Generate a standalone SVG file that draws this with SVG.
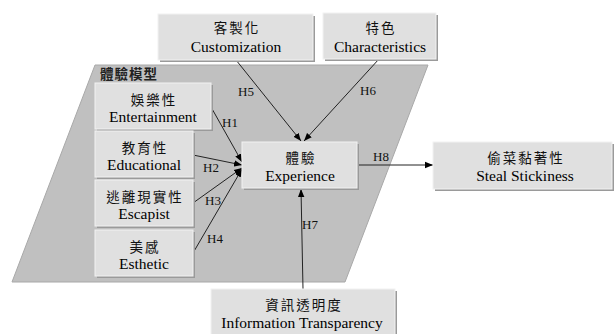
<svg xmlns="http://www.w3.org/2000/svg" width="615" height="334" viewBox="0 0 615 334">
<style>
.box{fill:#e0e0e0;stroke:#f2f2f2;stroke-width:1}
.sh{fill:#9a9a9a}
.zh{font-family:"Liberation Serif","Noto Sans CJK TC",serif;font-size:13.5px;letter-spacing:2px;fill:#111;text-anchor:middle}
.en{font-family:"Liberation Serif",serif;font-size:15.5px;fill:#000;text-anchor:middle}
.lb{font-family:"Liberation Serif",serif;font-size:13px;fill:#111}
.ln{stroke:#222;stroke-width:1;fill:none;marker-end:url(#ah)}
</style>
<defs>
<marker id="ah" viewBox="0 0 10 10" refX="10" refY="5" markerWidth="8" markerHeight="8" markerUnits="userSpaceOnUse" orient="auto">
<path d="M0,1 L10,5 L0,9 Z" fill="#000"/>
</marker>
</defs>
<rect width="615" height="334" fill="#fff"/>
<g id="model">
<polygon points="95,65 428,65 345,282 12,282" fill="#c0c0c0" stroke="#a8a8a8" stroke-width="1"/>
<text x="100" y="79" font-family="Liberation Serif,'Noto Sans CJK TC',serif" font-size="13.5" font-weight="bold" letter-spacing="1" fill="#222">體驗模型</text>
</g>
<g id="connectors">
<line class="ln" x1="211" y1="107" x2="242" y2="162"/>
<line class="ln" x1="193" y1="155" x2="242" y2="165"/>
<line class="ln" x1="193" y1="203" x2="242" y2="168"/>
<line class="ln" x1="193" y1="253" x2="242" y2="169"/>
<line class="ln" x1="236" y1="60" x2="301" y2="141"/>
<line class="ln" x1="379" y1="59" x2="304" y2="141"/>
<line class="ln" x1="303" y1="289" x2="301" y2="189"/>
<line class="ln" x1="357" y1="165" x2="433" y2="165"/>
<text class="lb" x="222" y="127">H1</text>
<text class="lb" x="203" y="172">H2</text>
<text class="lb" x="205" y="205">H3</text>
<text class="lb" x="207" y="243">H4</text>
<text class="lb" x="238" y="96">H5</text>
<text class="lb" x="360" y="95">H6</text>
<text class="lb" x="302" y="229">H7</text>
<text class="lb" x="373" y="161">H8</text>
</g>
<g id="entertainment">
<rect class="sh" x="97" y="85" width="116" height="46"/>
<rect class="box" x="95" y="83" width="116" height="46"/>
<text class="zh" x="154" y="105">娛樂性</text>
<text class="en" x="153" y="122">Entertainment</text>
</g>
<g id="educational">
<rect class="sh" x="97" y="133" width="98" height="46"/>
<rect class="box" x="95" y="131" width="98" height="46"/>
<text class="zh" x="145" y="153">教育性</text>
<text class="en" x="144" y="170">Educational</text>
</g>
<g id="escapist">
<rect class="sh" x="97" y="182" width="98" height="46"/>
<rect class="box" x="95" y="180" width="98" height="46"/>
<text class="zh" x="145" y="202">逃離現實性</text>
<text class="en" x="144" y="219">Escapist</text>
</g>
<g id="esthetic">
<rect class="sh" x="97" y="232" width="98" height="46"/>
<rect class="box" x="95" y="230" width="98" height="46"/>
<text class="zh" x="145" y="252">美感</text>
<text class="en" x="144" y="269">Esthetic</text>
</g>
<g id="customization">
<rect class="sh" x="160" y="16" width="155" height="46"/>
<rect class="box" x="158" y="14" width="155" height="46"/>
<text class="zh" x="237" y="33">客製化</text>
<text class="en" x="236" y="52">Customization</text>
</g>
<g id="characteristics">
<rect class="sh" x="325" y="15" width="113" height="46"/>
<rect class="box" x="323" y="13" width="113" height="46"/>
<text class="zh" x="381" y="33">特色</text>
<text class="en" x="380" y="52">Characteristics</text>
</g>
<g id="experience">
<rect class="sh" x="244" y="144" width="115" height="46"/>
<rect class="box" x="242" y="142" width="115" height="46"/>
<text class="zh" x="301" y="163">體驗</text>
<text class="en" x="300" y="181">Experience</text>
</g>
<g id="stickiness">
<rect class="sh" x="435" y="144" width="179" height="47"/>
<rect class="box" x="433" y="142" width="179" height="47"/>
<text class="zh" x="526" y="163">偷菜黏著性</text>
<text class="en" x="525" y="181">Steal Stickiness</text>
</g>
<g id="transparency">
<rect class="sh" x="213" y="291" width="184" height="46"/>
<rect class="box" x="211" y="289" width="184" height="46"/>
<text class="zh" x="304" y="310">資訊透明度</text>
<text class="en" x="302" y="328">Information Transparency</text>
</g>
</svg>
